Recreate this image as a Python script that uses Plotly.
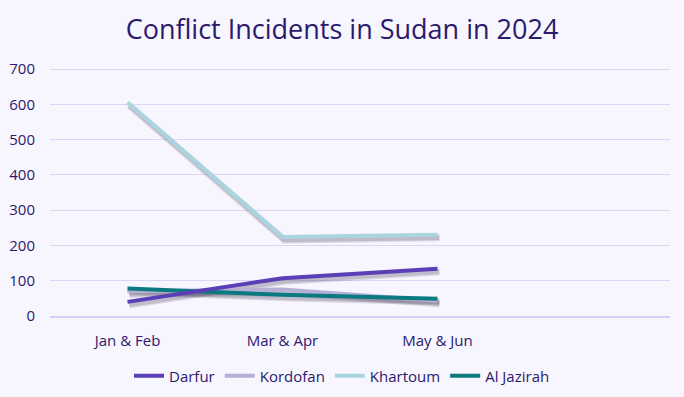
import plotly.graph_objects as go

categories = ["Jan & Feb", "Mar & Apr", "May & Jun", " "]
darfur = [40, 107, 134]
kordofan = [70, 75, 43]
khartoum = [605, 224, 230]
al_jazirah = [78, 60, 49]
y_ticks = [0, 100, 200, 300, 400, 500, 600, 700]

# (name, values, colour, legend rank); drawn in this order
series = [
    ("Kordofan", kordofan, "#B7B0D6", 2),
    ("Khartoum", khartoum, "#A9D6DE", 3),
    ("Al Jazirah", al_jazirah, "#0B7A80", 4),
    ("Darfur", darfur, "#5B3FB6", 1),
]

txt = "#2B1A6B"
bg = "#F7F5FE"
fam = "Open Sans, Noto Sans, sans-serif"
fig = go.Figure()

# soft drop shadows on a slightly shifted hidden axis pair
for name, vals, col, rank in series:
    fig.add_trace(go.Scatter(
        x=categories[:len(vals)], y=vals, mode="lines", showlegend=False,
        hoverinfo="skip", xaxis="x", yaxis="y",
        line=dict(color="rgba(70,60,90,0.16)", width=7),
    ))
for name, vals, col, rank in series:
    fig.add_trace(go.Scatter(
        x=categories[:len(vals)], y=vals, mode="lines", showlegend=False,
        hoverinfo="skip", xaxis="x", yaxis="y",
        line=dict(color="rgba(70,60,90,0.18)", width=4.5),
    ))

for name, vals, col, rank in series:
    fig.add_trace(go.Scatter(
        x=categories[:len(vals)], y=vals, name=name, mode="lines", legendrank=rank,
        xaxis="x2", yaxis="y2",
        line=dict(color=col, width=4),
    ))

dx = 0.012
dy = 8.5
fig.update_layout(
    width=684, height=397,
    paper_bgcolor=bg, plot_bgcolor=bg,
    font=dict(family=fam, color=txt, size=14),
    title=dict(text="Conflict Incidents in Sudan in 2024", x=0.5, xanchor="center",
               y=0.925, yanchor="middle", font=dict(size=27, color=txt, family=fam)),
    margin=dict(l=50, r=14, t=68, b=81, autoexpand=False),
    showlegend=True,
    legend=dict(orientation="h", xref="container", x=0.5, xanchor="center",
                yref="container", y=0.053, yanchor="middle",
                font=dict(size=15, color=txt, family=fam), itemwidth=30),
    xaxis=dict(type="category", categoryorder="array", categoryarray=categories,
               range=[-0.5 - dx, 3.5 - dx], visible=False, fixedrange=True),
    yaxis=dict(range=[dy, 703 + dy], visible=False, fixedrange=True),
    xaxis2=dict(type="category", categoryorder="array", categoryarray=categories,
                overlaying="x", side="bottom", anchor="y2",
                range=[-0.5, 3.5], showgrid=False, showline=True, linecolor="#D6CEF3",
                linewidth=2, ticks="", tickfont=dict(size=15, color=txt),
                ticklabelstandoff=10),
    yaxis2=dict(range=[0, 703], tickvals=y_ticks, overlaying="y", side="left",
                anchor="x2", showgrid=True, gridcolor="#DCD5F6",
                gridwidth=1, zeroline=False, ticks="", tickfont=dict(size=15, color=txt),
                ticklabelstandoff=14),
)

fig.write_html(
    "out.html",
    config={"displayModeBar": False},
    post_script="document.body.style.margin='0';document.body.style.background='%s';" % bg,
)
